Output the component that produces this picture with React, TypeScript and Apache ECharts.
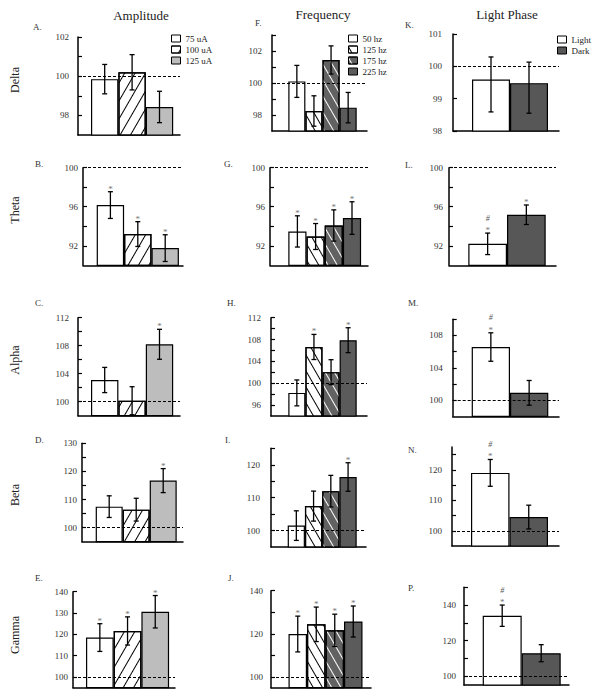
import { useEffect, useRef } from 'react';
import * as echarts from 'echarts';

const FONT = '"Liberation Serif", "Times New Roman", serif';

// ---------- categories / labels ----------
const amplitudeGroups = ['75 uA', '100 uA', '125 uA'];
const frequencyGroups = ['50 hz', '125 hz', '175 hz', '225 hz'];
const phaseGroups = ['Light', 'Dark'];
const bandNames = ['Delta', 'Theta', 'Alpha', 'Beta', 'Gamma'];
const columnTitles = ['Amplitude', 'Frequency', 'Light Phase'];

// ---------- Amplitude (% of baseline): mean and error ----------
const deltaAmpMean = [99.85, 100.2, 98.43];
const deltaAmpErr = [0.75, 0.9, 0.8];
const thetaAmpMean = [96.17, 93.2, 91.76];
const thetaAmpErr = [1.37, 1.27, 1.37];
const alphaAmpMean = [103.1, 100.14, 108.2];
const alphaAmpErr = [1.8, 2.0, 2.14];
const betaAmpMean = [107.47, 106.4, 116.73];
const betaAmpErr = [3.85, 4.05, 4.27];
const gammaAmpMean = [118.5, 121.6, 130.6];
const gammaAmpErr = [6.5, 6.6, 7.6];

// ---------- Frequency ----------
const deltaFreqMean = [100.1, 98.25, 101.44, 98.46];
const deltaFreqErr = [1.0, 0.95, 0.88, 0.95];
const thetaFreqMean = [93.47, 92.95, 94.08, 94.84];
const thetaFreqErr = [1.6, 1.33, 1.6, 1.67];
const alphaFreqMean = [98.23, 106.64, 102.03, 107.88];
const alphaFreqErr = [2.37, 2.3, 2.28, 2.28];
const betaFreqMean = [101.5, 107.43, 111.97, 116.28];
const betaFreqErr = [4.5, 4.56, 4.8, 4.33];
const gammaFreqMean = [119.9, 124.4, 121.6, 125.7];
const gammaFreqErr = [8.3, 8.0, 7.5, 7.2];

// ---------- Light phase ----------
const deltaPhaseMean = [99.59, 99.48];
const deltaPhaseErrUp = [0.7, 0.65];
const deltaPhaseErrDown = [1.0, 0.93];
const thetaPhaseMean = [92.2, 95.18];
const thetaPhaseErr = [1.1, 1.0];
const alphaPhaseMean = [106.57, 100.9];
const alphaPhaseErr = [1.76, 1.53];
const betaPhaseMean = [119.0, 104.5];
const betaPhaseErr = [4.4, 3.9];
const gammaPhaseMean = [134.0, 112.9];
const gammaPhaseErr = [6.0, 4.8];

// ---------- significance marks ----------
const noMarks3 = ['', '', ''];
const noMarks4 = ['', '', '', ''];
const thetaAmpMarks = ['*', '*', '*'];
const alphaAmpMarks = ['', '', '*'];
const betaAmpMarks = ['', '', '*'];
const gammaAmpMarks = ['*', '*', '*'];
const thetaFreqMarks = ['*', '*', '*', '*'];
const alphaFreqMarks = ['', '*', '', '*'];
const betaFreqMarks = ['', '', '', '*'];
const gammaFreqMarks = ['*', '*', '*', '*'];
const deltaPhaseMarks = ['', ''];
const thetaPhaseMarks = ['*#', '*'];
const alphaPhaseMarks = ['*#', ''];
const betaPhaseMarks = ['*#', ''];
const gammaPhaseMarks = ['*#', ''];

// ---------- tick values ----------
const ticksDeltaAmp = [98, 99, 100, 101, 102];
const labelsDeltaAmp = [98, 100, 102];
const ticksTheta = [92, 94, 96, 98, 100];
const labelsTheta = [92, 96, 100];
const ticksAlphaAmp = [100, 102, 104, 106, 108, 110, 112];
const labelsAlphaAmp = [100, 104, 108, 112];
const ticksBetaAmp = [100, 105, 110, 115, 120, 125, 130];
const labelsBetaAmp = [100, 110, 120, 130];
const ticksGammaAmp = [100, 110, 120, 130, 140];
const labelsGammaAmp = [100, 110, 120, 130, 140];
const ticksDeltaFreq = [98, 99, 100, 101, 102, 103];
const labelsDeltaFreq = [98, 100, 102];
const ticksAlphaFreq = [96, 98, 100, 102, 104, 106, 108, 110, 112];
const labelsAlphaFreq = [96, 100, 104, 108, 112];
const ticksBetaFreq = [100, 105, 110, 115, 120, 125];
const labelsBetaFreq = [100, 110, 120];
const ticksGammaFreq = [100, 110, 120, 130, 140];
const labelsGammaFreq = [100, 120, 140];
const ticksDeltaPhase = [98, 99, 100, 101];
const labelsDeltaPhase = [98, 99, 100, 101];
const ticksAlphaPhase = [100, 102, 104, 106, 108, 110];
const labelsAlphaPhase = [100, 104, 108];
const ticksBetaPhase = [100, 105, 110, 115, 120, 125];
const labelsBetaPhase = [100, 110, 120];
const ticksGammaPhase = [100, 110, 120, 130, 140, 150];
const labelsGammaPhase = [100, 120, 140];

// ---------- bar styles ----------
const hatchSlash = {
  symbol: 'rect', symbolSize: 1, dashArrayX: [1, 0], dashArrayY: [1, 7.5],
  rotation: -Math.PI / 3, color: '#000',
};
const hatchBackBlack = {
  symbol: 'rect', symbolSize: 1, dashArrayX: [1, 0], dashArrayY: [1, 7],
  rotation: Math.PI / 3, color: '#000',
};
const hatchBackWhite = {
  symbol: 'rect', symbolSize: 1, dashArrayX: [1, 0], dashArrayY: [1, 7],
  rotation: Math.PI / 3, color: '#fff',
};
const ampStyles = [{ color: '#fff' }, { color: '#fff', decal: hatchSlash }, { color: '#bdbdbd' }];
const freqStyles = [
  { color: '#fff' },
  { color: '#fff', decal: hatchBackBlack },
  { color: '#626262', decal: hatchBackWhite },
  { color: '#5b5b5b' },
];
const phaseStyles = [{ color: '#fff' }, { color: '#575757' }];

type Layout = {
  letter: string; lx: number; ly: number;
  left: number; right: number; top: number; bottom: number;
  yMin: number; yMax: number; margin: number;
  barStart: number; barWidth: number;
};

type Panel = {
  cats: string[]; styles: any[]; mean: number[]; errUp: number[]; errDown: number[];
  marks: string[]; ticks: number[]; labels: number[]; layout: Layout;
};

const mk = (
  cats: string[], styles: any[], mean: number[], errUp: number[], errDown: number[],
  marks: string[], ticks: number[], labels: number[], layout: Layout,
): Panel => ({ cats, styles, mean, errUp, errDown, marks, ticks, labels, layout });

const panels: Panel[] = [
  // Amplitude column
  mk(amplitudeGroups, ampStyles, deltaAmpMean, deltaAmpErr, deltaAmpErr, noMarks3, ticksDeltaAmp, labelsDeltaAmp,
    { letter: 'A.', lx: 33, ly: 27, left: 78, right: 180, top: 37, bottom: 135, yMin: 97, yMax: 102, margin: 9, barStart: 91, barWidth: 27.4 }),
  mk(amplitudeGroups, ampStyles, thetaAmpMean, thetaAmpErr, thetaAmpErr, thetaAmpMarks, ticksTheta, labelsTheta,
    { letter: 'B.', lx: 35, ly: 164, left: 83, right: 183, top: 167.7, bottom: 265.3, yMin: 90, yMax: 100, margin: 5, barStart: 96.7, barWidth: 27.4 }),
  mk(amplitudeGroups, ampStyles, alphaAmpMean, alphaAmpErr, alphaAmpErr, alphaAmpMarks, ticksAlphaAmp, labelsAlphaAmp,
    { letter: 'C.', lx: 35, ly: 303, left: 78, right: 180, top: 317.7, bottom: 415.7, yMin: 98, yMax: 112, margin: 9, barStart: 91, barWidth: 27.4 }),
  mk(amplitudeGroups, ampStyles, betaAmpMean, betaAmpErr, betaAmpErr, betaAmpMarks, ticksBetaAmp, labelsBetaAmp,
    { letter: 'D.', lx: 35, ly: 440, left: 82, right: 183, top: 443.3, bottom: 541.7, yMin: 95, yMax: 130, margin: 5, barStart: 95.7, barWidth: 27 }),
  mk(amplitudeGroups, ampStyles, gammaAmpMean, gammaAmpErr, gammaAmpErr, gammaAmpMarks, ticksGammaAmp, labelsGammaAmp,
    { letter: 'E.', lx: 35, ly: 578, left: 73, right: 175, top: 591.7, bottom: 687.7, yMin: 95, yMax: 140, margin: 5, barStart: 86, barWidth: 27.7 }),
  // Frequency column
  mk(frequencyGroups, freqStyles, deltaFreqMean, deltaFreqErr, deltaFreqErr, noMarks4, ticksDeltaFreq, labelsDeltaFreq,
    { letter: 'F.', lx: 255, ly: 23, left: 272, right: 367, top: 35, bottom: 131, yMin: 97, yMax: 103, margin: 10, barStart: 288.3, barWidth: 17.1 }),
  mk(frequencyGroups, freqStyles, thetaFreqMean, thetaFreqErr, thetaFreqErr, thetaFreqMarks, ticksTheta, labelsTheta,
    { letter: 'G.', lx: 224, ly: 164, left: 270, right: 368, top: 167.7, bottom: 265.3, yMin: 90, yMax: 100, margin: 5, barStart: 288.3, barWidth: 18.2 }),
  mk(frequencyGroups, freqStyles, alphaFreqMean, alphaFreqErr, alphaFreqErr, alphaFreqMarks, ticksAlphaFreq, labelsAlphaFreq,
    { letter: 'H.', lx: 227, ly: 303, left: 271, right: 367, top: 317.7, bottom: 416, yMin: 94, yMax: 112, margin: 10, barStart: 288.3, barWidth: 17.1 }),
  mk(frequencyGroups, freqStyles, betaFreqMean, betaFreqErr, betaFreqErr, betaFreqMarks, ticksBetaFreq, labelsBetaFreq,
    { letter: 'I.', lx: 225, ly: 440, left: 271, right: 366, top: 448.3, bottom: 547, yMin: 95, yMax: 125, margin: 11, barStart: 287.7, barWidth: 17.25 }),
  mk(frequencyGroups, freqStyles, gammaFreqMean, gammaFreqErr, gammaFreqErr, gammaFreqMarks, ticksGammaFreq, labelsGammaFreq,
    { letter: 'J.', lx: 228, ly: 578, left: 271, right: 371, top: 590.7, bottom: 687.7, yMin: 95, yMax: 140, margin: 8, barStart: 288.5, barWidth: 18.5 }),
  // Light phase column
  mk(phaseGroups, phaseStyles, deltaPhaseMean, deltaPhaseErrUp, deltaPhaseErrDown, deltaPhaseMarks, ticksDeltaPhase, labelsDeltaPhase,
    { letter: 'K.', lx: 405, ly: 25, left: 453, right: 559, top: 34, bottom: 131, yMin: 98, yMax: 101, margin: 11, barStart: 472, barWidth: 38 }),
  mk(phaseGroups, phaseStyles, thetaPhaseMean, thetaPhaseErr, thetaPhaseErr, thetaPhaseMarks, ticksTheta, labelsTheta,
    { letter: 'L.', lx: 405, ly: 165, left: 449, right: 556, top: 167.7, bottom: 265.3, yMin: 90, yMax: 100, margin: 6, barStart: 468.3, barWidth: 38.7 }),
  mk(phaseGroups, phaseStyles, alphaPhaseMean, alphaPhaseErr, alphaPhaseErr, alphaPhaseMarks, ticksAlphaPhase, labelsAlphaPhase,
    { letter: 'M.', lx: 408, ly: 303, left: 452.7, right: 559, top: 319.3, bottom: 416.3, yMin: 98, yMax: 110, margin: 10, barStart: 471.7, barWidth: 38.3 }),
  mk(phaseGroups, phaseStyles, betaPhaseMean, betaPhaseErr, betaPhaseErr, betaPhaseMarks, ticksBetaPhase, labelsBetaPhase,
    { letter: 'N.', lx: 408, ly: 450, left: 452, right: 559, top: 447, bottom: 546, yMin: 95, yMax: 127.5, margin: 10, barStart: 471, barWidth: 38.5 }),
  mk(phaseGroups, phaseStyles, gammaPhaseMean, gammaPhaseErr, gammaPhaseErr, gammaPhaseMarks, ticksGammaPhase, labelsGammaPhase,
    { letter: 'P.', lx: 408, ly: 588, left: 464, right: 569, top: 587.3, bottom: 685, yMin: 95, yMax: 150, margin: 8, barStart: 482.7, barWidth: 39 }),
];

const rowLabelY = [80, 210, 360, 495, 635];
const colTitlePos = [[141, 15], [323, 14], [507, 14]];

function buildOption() {
  const grid: any[] = [];
  const xAxis: any[] = [];
  const yAxis: any[] = [];
  const series: any[] = [];
  const graphic: any[] = [];

  panels.forEach((p, k) => {
    const L = p.layout;
    grid.push({ left: L.left, top: L.top, width: L.right - L.left, height: L.bottom - L.top });
    const xmin = -0.5 - (L.barStart - L.left) / L.barWidth;
    const xmax = xmin + (L.right - L.left) / L.barWidth;
    xAxis.push({
      gridIndex: k, type: 'value', min: xmin, max: xmax,
      axisLine: { show: true, onZero: false, lineStyle: { color: '#000', width: 1.5 } },
      axisTick: { show: false }, axisLabel: { show: false }, splitLine: { show: false },
    });
    yAxis.push({
      gridIndex: k, type: 'value', min: L.yMin, max: L.yMax,
      axisLine: { show: true, onZero: false, lineStyle: { color: '#000', width: 1.5 } },
      axisTick: { show: true, inside: true, length: 4, customValues: p.ticks, lineStyle: { color: '#000', width: 1.2 } },
      axisLabel: { show: true, customValues: p.labels, margin: L.margin, fontSize: 9, fontFamily: FONT, color: '#333' },
      splitLine: { show: false },
    });
    p.cats.forEach((name, i) => {
      series.push({
        type: 'bar', name, xAxisIndex: k, yAxisIndex: k, barWidth: L.barWidth, barGap: '-100%',
        silent: true, clip: true,
        data: [[i, p.mean[i]]],
        itemStyle: { ...p.styles[i], borderColor: '#000', borderWidth: 1.2 },
        markLine: i === 0 ? {
          silent: true, symbol: ['none', 'none'], label: { show: false },
          lineStyle: { type: [3, 2], color: '#000', width: 1 },
          data: [{ yAxis: 100 }],
        } : undefined,
      });
    });
    const marks = p.marks;
    series.push({
      type: 'custom', xAxisIndex: k, yAxisIndex: k, silent: true, clip: false, z: 10,
      data: p.mean.map((m, i) => [i, m - p.errDown[i], m + p.errUp[i]]),
      renderItem: (params: any, api: any) => {
        const i = api.value(0);
        const top = api.coord([i, api.value(2)]);
        const bot = api.coord([i, api.value(1)]);
        const cx = top[0];
        const cap = 2.5;
        const ls = { stroke: '#000', lineWidth: 1.3 };
        const children: any[] = [
          { type: 'line', shape: { x1: cx, y1: top[1], x2: cx, y2: bot[1] }, style: ls },
          { type: 'line', shape: { x1: cx - cap, y1: top[1], x2: cx + cap, y2: top[1] }, style: ls },
          { type: 'line', shape: { x1: cx - cap, y1: bot[1], x2: cx + cap, y2: bot[1] }, style: ls },
        ];
        const m = marks[params.dataIndex] || '';
        if (m.indexOf('*') >= 0) {
          children.push({
            type: 'text', x: cx, y: top[1] - 3,
            style: { text: '*', fill: '#777', fontSize: 9, fontFamily: FONT, align: 'center', verticalAlign: 'middle' },
          });
        }
        if (m.indexOf('#') >= 0) {
          children.push({
            type: 'text', x: cx, y: top[1] - 15,
            style: { text: '#', fill: '#555', fontSize: 8, fontStyle: 'italic', fontFamily: FONT, align: 'center', verticalAlign: 'middle' },
          });
        }
        return { type: 'group', children };
      },
    });
    graphic.push({
      type: 'text', x: L.lx, y: L.ly,
      style: { text: L.letter, fill: '#333', fontSize: 9, fontFamily: FONT, align: 'left', verticalAlign: 'middle' },
    });
  });

  bandNames.forEach((b, r) => {
    graphic.push({
      type: 'text', x: 15, y: rowLabelY[r], rotation: Math.PI / 2,
      style: { text: b, fill: '#222', fontSize: 12, fontFamily: FONT, align: 'center', verticalAlign: 'middle' },
    });
  });
  columnTitles.forEach((t, c) => {
    graphic.push({
      type: 'text', x: colTitlePos[c][0], y: colTitlePos[c][1],
      style: { text: t, fill: '#222', fontSize: 13, fontFamily: FONT, align: 'center', verticalAlign: 'middle' },
    });
  });

  const legendBase = {
    orient: 'vertical', itemWidth: 9, itemHeight: 7, itemGap: 2, padding: 0, icon: 'rect',
    selectedMode: false,
    textStyle: { fontSize: 9, fontFamily: FONT, color: '#222' },
    itemStyle: { borderColor: '#000', borderWidth: 1 },
  };
  const legend = [
    { ...legendBase, data: amplitudeGroups, left: 171, top: 34 },
    { ...legendBase, data: frequencyGroups, left: 348, top: 34 },
    { ...legendBase, data: phaseGroups, left: 557, top: 35 },
  ];

  return {
    animation: false,
    backgroundColor: '#fff',
    grid, xAxis, yAxis, series, graphic, legend,
  };
}

export default function App() {
  const ref = useRef<HTMLDivElement>(null);
  useEffect(() => {
    if (!ref.current) return;
    const chart = echarts.init(ref.current, undefined, { renderer: 'svg' });
    chart.setOption(buildOption() as any);
    return () => chart.dispose();
  }, []);
  return (
    <div
      ref={ref}
      style={{ position: 'fixed', left: 0, top: 0, width: 600, height: 697, background: '#fff' }}
    />
  );
}
